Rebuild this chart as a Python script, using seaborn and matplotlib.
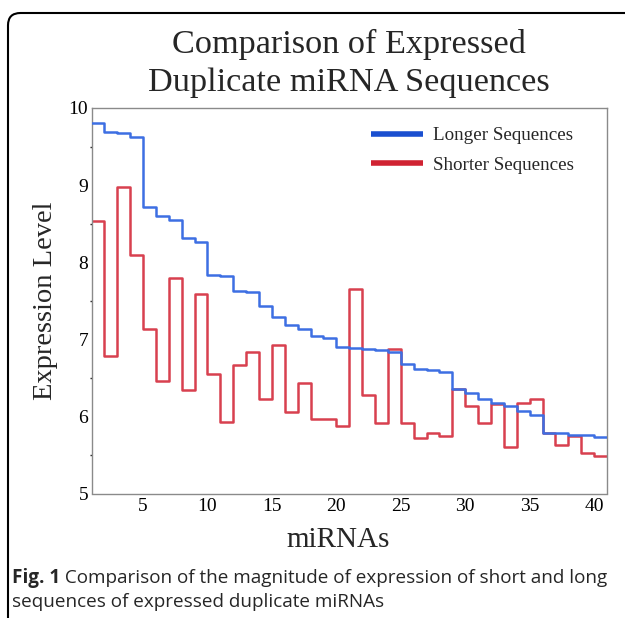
import numpy as np
import pandas as pd
import matplotlib
matplotlib.use("Agg")
import matplotlib.pyplot as plt
import seaborn as sns
from matplotlib.lines import Line2D
from matplotlib.patches import FancyBboxPatch

# ---- data ----
mirna_index = list(range(1, 41))
longer = [9.81, 9.69, 9.68, 9.63, 8.71, 8.60, 8.55, 8.32, 8.26, 7.84,
          7.82, 7.62, 7.61, 7.43, 7.29, 7.18, 7.13, 7.04, 7.02, 6.90,
          6.89, 6.88, 6.86, 6.83, 6.68, 6.61, 6.60, 6.57, 6.35, 6.30,
          6.22, 6.18, 6.14, 6.07, 6.02, 5.79, 5.78, 5.76, 5.76, 5.73]
shorter = [8.54, 6.78, 8.98, 8.09, 7.13, 6.46, 7.80, 6.34, 7.59, 6.55,
           5.93, 6.67, 6.84, 6.22, 6.92, 6.06, 6.43, 5.97, 5.96, 5.87,
           7.65, 6.28, 5.91, 6.87, 5.91, 5.72, 5.79, 5.74, 6.36, 6.13,
           5.92, 6.16, 5.60, 6.18, 6.22, 5.78, 5.63, 5.75, 5.52, 5.48]
series_names = ["Longer Sequences", "Shorter Sequences"]
title_lines = ["Comparison of Expressed", "Duplicate miRNA Sequences"]
x_label = "miRNAs"
y_label = "Expression Level"
x_ticks = [5, 10, 15, 20, 25, 30, 35, 40]
y_ticks = [5, 6, 7, 8, 9, 10]
caption_bold = "Fig. 1"
caption_rest = (" Comparison of the magnitude of expression of short and long",
                "sequences of expressed duplicate miRNAs")

line_colors = {"Longer Sequences": "#3d6fe3", "Shorter Sequences": "#d8404f"}
legend_colors = {"Longer Sequences": "#1a4fd0", "Shorter Sequences": "#d02232"}

# step edges: each miRNA occupies [i, i+1]
def stepped(vals):
    x = mirna_index + [mirna_index[-1] + 1]
    y = list(vals) + [vals[-1]]
    return x, y

rows = []
for name, vals in zip(series_names, [longer, shorter]):
    xs, ys = stepped(vals)
    for xv, yv in zip(xs, ys):
        rows.append({"miRNA": xv, "Expression": yv, "Series": name})
df = pd.DataFrame(rows)

sns.set_theme(style="white")
plt.rcParams["font.family"] = ["Liberation Serif", "DejaVu Serif"]

fig = plt.figure(figsize=(6.25, 6.18), dpi=100)
ax = fig.add_axes([91.5 / 625, 1 - 493.5 / 618, (607 - 91.5) / 625, (493.5 - 108) / 618])

# draw shorter first, longer on top
for name, z in [("Shorter Sequences", 2), ("Longer Sequences", 3)]:
    sub = df[df["Series"] == name]
    sns.lineplot(data=sub, x="miRNA", y="Expression", ax=ax, color=line_colors[name],
                 drawstyle="steps-post", linewidth=1.8, sort=False, estimator=None,
                 zorder=z, legend=False)

ax.set_xlim(1, 41)
ax.set_ylim(5, 10)
ax.set_xticks(x_ticks)
ax.set_yticks(y_ticks)
ax.set_yticks(np.arange(5.5, 10, 1.0), minor=True)
ax.tick_params(axis="both", labelsize=14, colors="#888888", labelcolor="black", length=2.5, width=0.8)
ax.tick_params(axis="x", direction="in", pad=3)
ax.tick_params(axis="y", direction="out", pad=0)
ax.tick_params(axis="y", which="minor", length=1.5, left=True)
for sp in ax.spines.values():
    sp.set_color("#8a8a8a")
    sp.set_linewidth(1.0)
ax.set_xlabel(x_label, fontsize=21)
ax.set_ylabel(y_label, fontsize=20.5)
ax.xaxis.set_label_coords((338 - 91.5) / 515.5, -(540 - 493.5) / 385.5)
ax.yaxis.set_label_coords(-(91.5 - 46) / 515.5, 0.5)
ax.xaxis.label.set_va("center")
ax.yaxis.label.set_va("center")
ax.grid(False)

handles = [Line2D([0], [0], color=legend_colors[n], linewidth=4, solid_capstyle="butt") for n in series_names]
leg = ax.legend(handles, series_names, loc="upper right", bbox_to_anchor=(0.97, 0.995),
                frameon=False, fontsize=13.7, handlelength=2.75, handletextpad=0.55, labelspacing=0.65)

fig.text(349 / 625, 1 - 44 / 618, title_lines[0], ha="center", va="center", fontsize=24.7)
fig.text(349 / 625, 1 - 83 / 618, title_lines[1], ha="center", va="center", fontsize=24.7)

# rounded border (top and left visible)
border = FancyBboxPatch((8 / 625, -0.2), 1.2, 1 - 13 / 618 + 0.2,
                        boxstyle="round,pad=0,rounding_size=0.02",
                        transform=fig.transFigure, fill=False, edgecolor="black",
                        linewidth=1.5, clip_on=False)
fig.patches.append(border)

# caption
cap_font = ["Open Sans", "DejaVu Sans"]
cap_size = 13.6
t1 = fig.text(12 / 625, 1 - 578 / 618, caption_bold, fontsize=cap_size, fontweight="bold",
              family=cap_font, va="center", ha="left")
fig.canvas.draw()
r = fig.canvas.get_renderer()
bb = t1.get_window_extent(renderer=r)
fig.text(bb.x1 / fig.bbox.width, 1 - 578 / 618, caption_rest[0], fontsize=cap_size,
         family=cap_font, va="center", ha="left")
fig.text(12 / 625, 1 - 602 / 618, caption_rest[1], fontsize=cap_size,
         family=cap_font, va="center", ha="left")

fig.savefig("out.png", dpi=100)
